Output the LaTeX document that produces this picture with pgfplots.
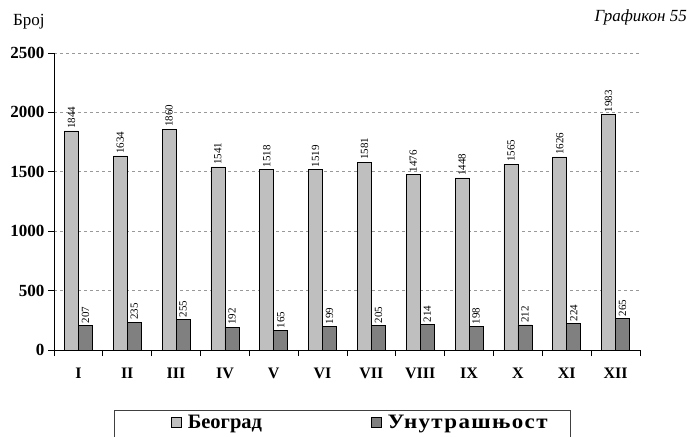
\documentclass[border=0pt]{standalone}
\usepackage{fontspec}
\setmainfont{Liberation Serif}
\usepackage{graphicx}
\usepackage{pgfplots}
\pgfplotsset{compat=1.18}
\definecolor{beo}{HTML}{BFBFBF}
\definecolor{unu}{HTML}{808080}
\pgfplotsset{sq legend/.style={legend image code/.code={\draw[##1, draw=black, line width=0.6pt] (0pt,-5pt) rectangle (10pt,5pt);}}}
\begin{document}
\begin{tikzpicture}
\useasboundingbox (-54pt,-86pt) rectangle (641pt,350pt);
\begin{axis}[
    at={(0,0)}, anchor=south west,
    scale only axis, width=586pt, height=297pt,
    ybar=0pt, bar width=14pt,
    xmin=-0.5, xmax=11.5, ymin=0, ymax=2500,
    xtick={0,...,11},
    xticklabels={I,II,III,IV,V,VI,VII,VIII,IX,X,XI,XII},
    minor xtick={-0.5,0.5,...,11.5},
    ytick={0,500,...,2500},
    axis lines=left, axis line style={-, black, line width=0.9pt},
    tick align=outside,
    major x tick style={draw=none},
    major tick length=6pt, minor tick length=6pt,
    tick style={black, line width=0.9pt},
    ymajorgrids, grid style={black!40, dash pattern=on 3pt off 3pt, line width=0.9pt},
    yticklabel style={font=\fontsize{17}{20}\selectfont\bfseries},
    xticklabel style={font=\fontsize{16}{19}\selectfont\bfseries, yshift=-8pt},
    /pgf/number format/assume math mode=true,
    /pgf/number format/set thousands separator={},
    nodes near coords,
    every node near coord/.append style={rotate=90, anchor=west, inner sep=2pt, font=\fontsize{11}{13}\selectfont},
    clip=false,
    legend columns=2,
    legend style={draw=none, fill=none, inner sep=0pt, at={(axis description cs:0.1997,-0.245)}, anchor=west,
        font=\fontsize{20.5}{23}\selectfont\bfseries,
        /tikz/every odd column/.append style={column sep=4pt},
        /tikz/every even column/.append style={column sep=107pt}},
]
\addplot[draw=black, fill=beo, line width=0.6pt, sq legend] coordinates {
    (0,1844)(1,1634)(2,1860)(3,1541)(4,1518)(5,1519)
    (6,1581)(7,1476)(8,1448)(9,1565)(10,1626)(11,1983)};
\addplot[draw=black, fill=unu, line width=0.6pt, sq legend] coordinates {
    (0,207)(1,235)(2,255)(3,192)(4,165)(5,199)
    (6,205)(7,214)(8,198)(9,212)(10,224)(11,265)};
\legend{Београд, {\scalebox{1.12}[1]{\addfontfeature{LetterSpace=6}Унутрашњост}}}
\draw[black!75, line width=0.9pt] (axis description cs:0.104,-0.202) rectangle (axis description cs:0.881,-0.4);
\end{axis}
\node[anchor=base west, inner sep=0pt, font=\fontsize{17}{20}\selectfont] at (-41pt,324pt) {Број};
\node[anchor=base east, inner sep=0pt, font=\fontsize{17}{20}\selectfont\itshape] at (633pt,328pt) {Графикон 55};
\end{tikzpicture}
\end{document}
